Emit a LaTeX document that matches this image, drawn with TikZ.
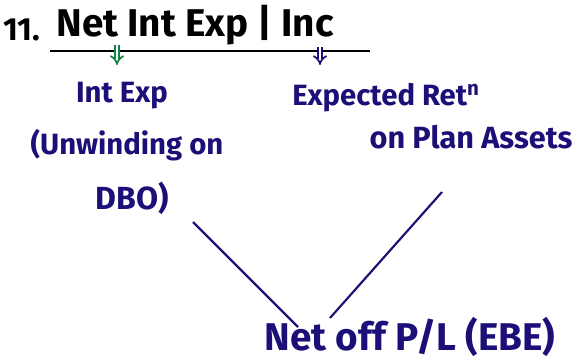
\documentclass[tikz,border=0pt]{standalone}
\usepackage{fontspec}
\setmainfont{Fira Sans}
\usepackage{tikz}
\usetikzlibrary{arrows.meta}
\definecolor{inkblue}{RGB}{28,16,120}
\definecolor{inkgreen}{RGB}{20,130,70}
\tikzset{
  hand/.style={inner sep=0.75pt, text=inkblue, font=\fontsize{22}{26}\bfseries\selectfont},
  headtext/.style={inner sep=0.75pt, text=black, font=\fontsize{29}{33}\bfseries\selectfont},
  inkline/.style={draw=inkblue, line width=1.6pt},
  dblarrow/.style={double, double distance=2.2pt, line width=1.3pt, -{Implies}}
}

\begin{document}
\begin{tikzpicture}[x=0.75pt,y=0.75pt,yscale=-1,xscale=1]
\useasboundingbox (0,0) rectangle (582,364);

% Heading
\node [headtext, font=\fontsize{24}{28}\bfseries\selectfont] (num) at (22,30) {11.};
\node [headtext] (head) at (195,25) {Net Int Exp | Inc};
%Straight Lines
\draw [line width=1.4pt] (50,51) coordinate (hl) -- (370,51) coordinate (hr);
\coordinate (ga) at (117,45);
\coordinate (gb) at (117,65);
\coordinate (ba) at (320,47);
\coordinate (bb) at (320,65);
\draw [dblarrow, draw=inkgreen] (ga) -- (gb);
\draw [dblarrow, draw=inkblue] (ba) -- (bb);

% Text Node
\node [hand] (intexp) at (122,96) {Int Exp};
\node [hand] (unwind) at (127,145) {(Unwinding on};
\node [hand, font=\fontsize{24}{28}\bfseries\selectfont] (dbo) at (132,198) {DBO)};
% Text Node
\node [hand] (retn) at (386,98) {Expected Ret\textsuperscript{n}};
\node [hand, font=\fontsize{23}{27}\bfseries\selectfont] (plan) at (471,137) {on Plan Assets};
% Text Node
\node [hand, font=\fontsize{29}{33}\bfseries\selectfont] (pl) at (410,337) {Net off P/L (EBE)};

%Straight Lines
\coordinate (la) at (193,222);
\coordinate (lb) at (298,327);
\coordinate (ra) at (442,192);
\coordinate (rb) at (330,318);
\draw [inkline] (la) -- (lb);
\draw [inkline] (ra) -- (rb);

\end{tikzpicture}
\end{document}
